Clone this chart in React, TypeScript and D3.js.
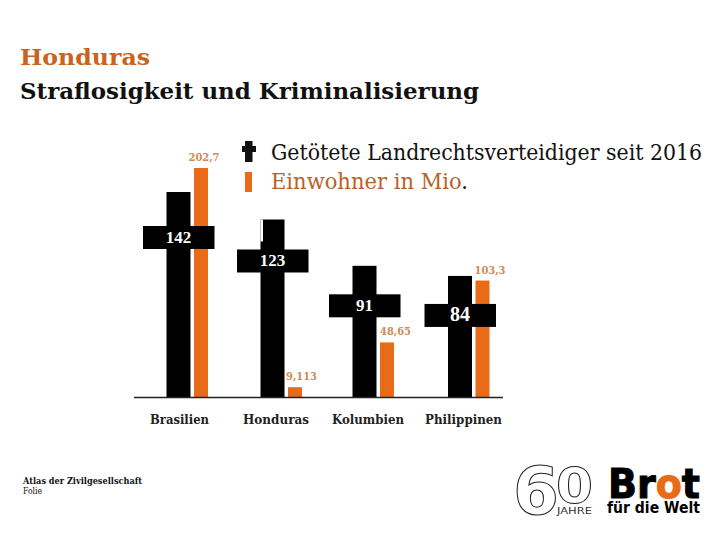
import { useEffect, useRef } from 'react'
import * as d3 from 'd3'

const categories = ['Brasilien', 'Honduras', 'Kolumbien', 'Philippinen']
const killed = [142, 123, 91, 84]
const population = [202.7, 9.113, 48.65, 103.3]
const populationLabels = ['202,7', '9,113', '48,65', '103,3']

const SERIF = '"DejaVu Serif", serif'
const TIMES = '"Liberation Serif", serif'
const SANS = '"DejaVu Sans", sans-serif'
const ORANGE = '#e96a17'

export default function App() {
  const ref = useRef<SVGSVGElement>(null)

  useEffect(() => {
    if (!ref.current) return
    const svg = d3.select(ref.current)
    svg.selectAll('*').remove()

    const baseY = 397.5
    const centre = d3.scaleOrdinal<string, number>().domain(categories).range([178.5, 272.5, 364.5, 460])
    const labelX = d3.scaleOrdinal<string, number>().domain(categories).range([179.5, 276, 368, 463.5])
    const labelW = d3.scaleOrdinal<string, number>().domain(categories).range([59, 66, 72, 77])
    const armDrop = d3.scaleOrdinal<string, number>().domain(categories).range([45.5, 41.5, 40, 39.5])
    const numSize = d3.scaleOrdinal<string, number>().domain(categories).range([17, 17, 17, 20])
    const valueDx = d3.scaleOrdinal<string, number>().domain(categories).range([25.5, 29, 31, 30])
    const yCross = d3.scaleLinear().domain([0, 142]).range([baseY, 192])
    const yPop = d3.scaleLinear().domain([0, 202.7]).range([baseY, 168])

    const rows = categories.map((c, i) => ({ c, k: killed[i], p: population[i], label: populationLabels[i] }))

    const txt = (s: string, x: number, y: number, size: number, fill: string, len?: number, weight = 'normal', family = SERIF) => {
      const t = svg.append('text').attr('x', x).attr('y', y).attr('font-size', size)
        .attr('font-family', family).attr('font-weight', weight).attr('fill', fill).text(s)
      if (len) t.attr('textLength', len).attr('lengthAdjust', 'spacingAndGlyphs')
      return t
    }

    // title
    txt('Honduras', 20, 65, 23, '#c8641e', 130, 'bold')
    txt('Straflosigkeit und Kriminalisierung', 20, 99, 23, '#111', 459, 'bold')

    // legend
    svg.append('rect').attr('x', 245).attr('y', 141).attr('width', 7.5).attr('height', 21).attr('fill', '#111')
    svg.append('rect').attr('x', 242).attr('y', 146).attr('width', 14).attr('height', 6).attr('fill', '#111')
    svg.append('rect').attr('x', 245).attr('y', 172).attr('width', 7).attr('height', 20).attr('fill', ORANGE)
    txt('Getötete Landrechtsverteidiger seit 2016', 271, 160, 22, '#111', 431)
    const einw = txt('Einwohner in Mio', 271, 189, 22, '#b8622c', 197)
    einw.append('tspan').attr('fill', '#111').text('.')

    // orange bars sit behind the crosses
    svg.append('g').selectAll('rect').data(rows).join('rect')
      .attr('x', d => centre(d.c) + 15.5)
      .attr('y', d => yPop(d.p))
      .attr('width', 14)
      .attr('height', d => baseY - yPop(d.p))
      .attr('fill', ORANGE)

    svg.append('g').selectAll('text').data(rows).join('text')
      .attr('x', d => centre(d.c) + valueDx(d.c))
      .attr('y', d => yPop(d.p) - 7)
      .attr('text-anchor', 'middle')
      .attr('font-family', SERIF)
      .attr('font-weight', 'bold')
      .attr('font-size', 11)
      .attr('textLength', 31)
      .attr('lengthAdjust', 'spacingAndGlyphs')
      .attr('fill', '#d08a55')
      .text(d => d.label)

    // crosses
    const cross = svg.append('g').selectAll('g').data(rows).join('g')
    cross.append('rect')
      .attr('x', d => centre(d.c) - 12)
      .attr('y', d => yCross(d.k))
      .attr('width', 24)
      .attr('height', d => baseY - yCross(d.k))
      .attr('fill', '#000')
    // the Honduras cross has a small step in its upper stem
    cross.filter(d => d.c === 'Honduras').append('rect')
      .attr('x', d => centre(d.c) - 12)
      .attr('y', d => yCross(d.k))
      .attr('width', 2.5)
      .attr('height', 22)
      .attr('fill', '#fff')
    cross.append('rect')
      .attr('x', d => centre(d.c) - 35.5)
      .attr('y', d => yCross(d.k) + armDrop(d.c) - 11.5)
      .attr('width', 71.5)
      .attr('height', 23)
      .attr('fill', '#000')
    cross.append('text')
      .attr('x', d => centre(d.c))
      .attr('y', d => yCross(d.k) + armDrop(d.c) + 5.5)
      .attr('text-anchor', 'middle')
      .attr('font-family', TIMES)
      .attr('font-weight', 'bold')
      .attr('font-size', d => numSize(d.c))
      .attr('fill', '#fff')
      .text(d => d.k)

    // baseline + category labels
    svg.append('line').attr('x1', 134).attr('x2', 503).attr('y1', baseY).attr('y2', baseY)
      .attr('stroke', '#222').attr('stroke-width', 1.5)
    svg.append('g').selectAll('text').data(categories).join('text')
      .attr('x', d => labelX(d))
      .attr('y', 424)
      .attr('text-anchor', 'middle')
      .attr('font-family', SERIF)
      .attr('font-weight', 'bold')
      .attr('font-size', 12.5)
      .attr('textLength', d => labelW(d))
      .attr('lengthAdjust', 'spacingAndGlyphs')
      .attr('fill', '#222')
      .text(d => d)

    // footer
    txt('Atlas der Zivilgesellschaft', 23, 484, 9, '#111', 119, 'bold')
    txt('Folie', 23, 494, 9, '#111', 19)

    // logo
    txt('6', 513, 514, 65, '#fff', 46, 'bold', SANS).attr('stroke', '#222').attr('stroke-width', 1)
    txt('0', 556, 503, 49, '#fff', 37, 'bold', SANS).attr('stroke', '#222').attr('stroke-width', 1)
    txt('JAHRE', 557, 514, 8, '#333', 35, 'normal', SANS)
    const brot = txt('Br', 608, 498, 40, '#000', 92, 'bold', SANS).attr('stroke', '#000').attr('stroke-width', 1)
    brot.append('tspan').attr('fill', ORANGE).attr('stroke', ORANGE).text('o')
    brot.append('tspan').text('t')
    txt('für die Welt', 607, 513, 15, '#000', 93, 'bold', SANS)
  }, [])

  return <svg ref={ref} width={720} height={540} style={{ position: 'absolute', left: 0, top: 0, background: '#fff' }} />
}
